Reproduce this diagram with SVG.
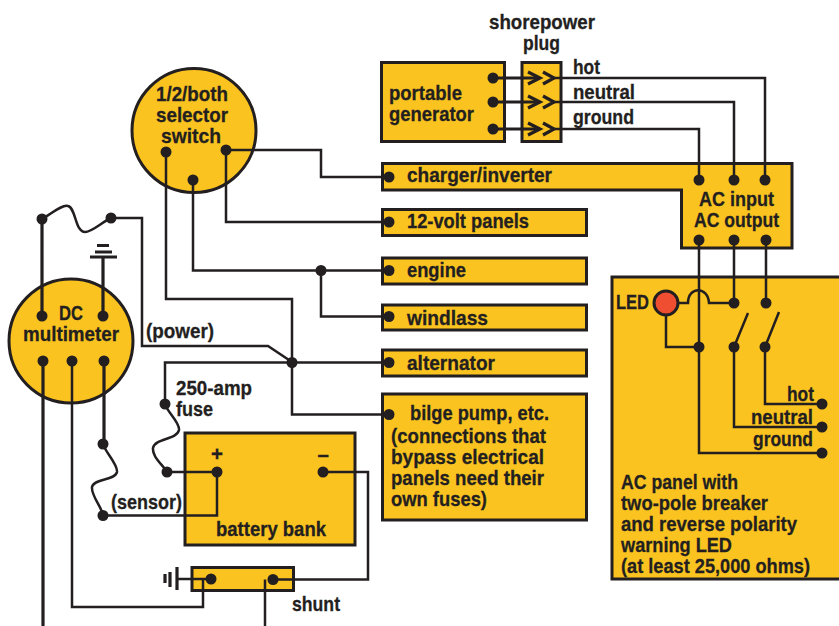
<svg xmlns="http://www.w3.org/2000/svg" width="839" height="626" viewBox="0 0 839 626">
<style>
.b{fill:#fbc31f;stroke:#231f20;stroke-width:3}
.w{fill:none;stroke:#231f20;stroke-width:2.500}
.h{fill:none;stroke:#231f20;stroke-width:3.200}
.d{fill:#231f20}
text{font-family:"Liberation Sans",Arial,sans-serif;font-weight:700;font-size:20.500px;fill:#231f20;stroke:#231f20;stroke-width:.3}
</style>
<rect width="839" height="626" fill="#fff"/>
<g id="node-selector"><circle class="b" cx="194" cy="130.500" r="62"/><text x="156" y="101" textLength="72" lengthAdjust="spacingAndGlyphs">1/2/both</text><text x="156" y="122" textLength="72" lengthAdjust="spacingAndGlyphs">selector</text><text x="161" y="143" textLength="60" lengthAdjust="spacingAndGlyphs">switch</text></g>
<g id="node-multimeter"><circle class="b" cx="71" cy="341" r="62"/><text x="59" y="320" textLength="24" lengthAdjust="spacingAndGlyphs">DC</text><text x="23" y="341" textLength="96" lengthAdjust="spacingAndGlyphs">multimeter</text></g>
<g id="node-generator"><rect class="b" x="381.500" y="62.500" width="123" height="79"/><text x="389" y="100" textLength="73" lengthAdjust="spacingAndGlyphs">portable</text><text x="389" y="121" textLength="85" lengthAdjust="spacingAndGlyphs">generator</text></g>
<g id="node-plug"><rect class="b" x="522" y="62.500" width="39" height="79"/></g>
<g id="node-charger"><path class="b" d="M382.500 163.500H792V248H681.500V190H382.500Z"/><text x="407" y="182" textLength="145" lengthAdjust="spacingAndGlyphs">charger/inverter</text><text x="699" y="206" textLength="75" lengthAdjust="spacingAndGlyphs">AC input</text><text x="694" y="227" textLength="85" lengthAdjust="spacingAndGlyphs">AC output</text></g>
<g id="node-panels"><rect class="b" x="382.500" y="209.500" width="204" height="26"/><text x="407" y="228" textLength="122" lengthAdjust="spacingAndGlyphs">12-volt panels</text></g>
<g id="node-engine"><rect class="b" x="382.500" y="258" width="204" height="26"/><text x="407" y="277" textLength="59" lengthAdjust="spacingAndGlyphs">engine</text></g>
<g id="node-windlass"><rect class="b" x="382.500" y="305" width="204" height="25"/><text x="407" y="325" textLength="81" lengthAdjust="spacingAndGlyphs">windlass</text></g>
<g id="node-alternator"><rect class="b" x="382.500" y="350" width="204" height="26"/><text x="407" y="370" textLength="88" lengthAdjust="spacingAndGlyphs">alternator</text></g>
<g id="node-bilge"><rect class="b" x="382.500" y="394" width="204" height="126"/><text x="410" y="420" textLength="139" lengthAdjust="spacingAndGlyphs">bilge pump, etc.</text><text x="391" y="443" textLength="155" lengthAdjust="spacingAndGlyphs">(connections that</text><text x="391" y="464" textLength="153" lengthAdjust="spacingAndGlyphs">bypass electrical</text><text x="391" y="485" textLength="153" lengthAdjust="spacingAndGlyphs">panels need their</text><text x="391" y="506" textLength="96" lengthAdjust="spacingAndGlyphs">own fuses)</text></g>
<g id="node-acpanel"><rect class="b" x="612" y="277" width="235" height="302"/><text x="616" y="309" textLength="33" lengthAdjust="spacingAndGlyphs">LED</text><text x="787" y="401" textLength="27" lengthAdjust="spacingAndGlyphs">hot</text><text x="751" y="424" textLength="62" lengthAdjust="spacingAndGlyphs">neutral</text><text x="753" y="446" textLength="60" lengthAdjust="spacingAndGlyphs">ground</text><text x="621" y="489" textLength="117" lengthAdjust="spacingAndGlyphs">AC panel with</text><text x="621" y="510" textLength="147" lengthAdjust="spacingAndGlyphs">two-pole breaker</text><text x="621" y="531" textLength="176" lengthAdjust="spacingAndGlyphs">and reverse polarity</text><text x="621" y="552" textLength="111" lengthAdjust="spacingAndGlyphs">warning LED</text><text x="621" y="573" textLength="189" lengthAdjust="spacingAndGlyphs">(at least 25,000 ohms)</text></g>
<g id="node-battery"><rect class="b" x="185" y="433" width="170" height="112"/><text x="216" y="536" textLength="110" lengthAdjust="spacingAndGlyphs">battery bank</text><text x="211" y="461">+</text><text x="317.500" y="461">–</text></g>
<g id="node-shunt"><rect class="b" x="192" y="567.500" width="101.500" height="23"/></g>
<g id="connectors">
<path class="w" d="M166 152V299H292V414.500H389M226 150V222H389M193 180V270.500H389M321 270.500V316.500H389M226 150H321V177H389"/>
<path class="w" d="M42 219C50 215 62 204 68 206C76 208 75 232 85 232C92 232 102 222 111 218H142V346H268L292 362"/>
<path class="w" d="M165 404V362.500H389"/>
<path class="h" d="M42 219V316M103 257V316M90 257H117M95 252H112M97 245.500H109"/>
<path class="h" d="M43 361V626M104 361V444"/>
<path class="w" d="M72 361V607H203V579"/>
<path class="w" d="M103 444C105 452 118 464 117 472C115 481 94 478 92 487C91 496 102 507 103 515.500H217V472M165 404C167 412 180 422 179 430C177 440 155 438 153 448C152 457 163 465 167 472H217"/>
<path class="w" d="M323 472H368V579.500H273M265 579.500V626"/>
<path class="w" d="M211 579H176"/><path class="h" d="M177 567V590M170 572V587M165 574V583"/>
<path class="h" d="M493 78H540M493 102H540M493 129H540"/>
<path class="w" d="M554 78H765V180M554 102H734V180M554 129H699V180"/>
<path class="h" d="M528 72L540 78L528 84M543 72L554 78L543 84M528 96L540 102L528 108M543 96L554 102L543 108M528 123L540 129L528 135M543 123L554 129L543 135"/>
<path class="w" d="M699 240V453H822M734 240V303M766 240V303M734 347V427H822M765 347V404H822"/>
<path class="w" d="M666 316V347H699M679 303H688C688 286 708 286 709 303H734"/>
<path class="w" d="M734 347L748 313M765 347L779 312"/>
</g>
<g id="dots" class="d">
<circle cx="166" cy="152" r="5.500"/><circle cx="226" cy="150" r="5.500"/><circle cx="193" cy="180" r="5.500"/><circle cx="321" cy="270.500" r="5.500"/><circle cx="292" cy="362.500" r="5.500"/>
<circle cx="389" cy="177" r="5.500"/><circle cx="389" cy="222" r="5.500"/><circle cx="389" cy="270.500" r="5.500"/><circle cx="389" cy="316.500" r="5.500"/><circle cx="389" cy="362.500" r="5.500"/><circle cx="389" cy="414.500" r="5.500"/>
<circle cx="42" cy="219" r="5.500"/><circle cx="111" cy="218" r="5.500"/><circle cx="42" cy="316" r="5.500"/><circle cx="103" cy="316" r="5.500"/><circle cx="43" cy="361" r="5.500"/><circle cx="72" cy="361" r="5.500"/><circle cx="104" cy="361" r="5.500"/>
<circle cx="165" cy="404" r="5.500"/><circle cx="167" cy="472" r="5.500"/><circle cx="217" cy="472" r="5.500"/><circle cx="323" cy="472" r="5.500"/><circle cx="103" cy="444" r="5.500"/><circle cx="103" cy="515.500" r="5.500"/><circle cx="211" cy="579" r="5.500"/><circle cx="273" cy="579.500" r="5.500"/>
<circle cx="493" cy="78" r="5.500"/><circle cx="493" cy="102" r="5.500"/><circle cx="493" cy="129" r="5.500"/>
<circle cx="699" cy="180" r="5.500"/><circle cx="734" cy="180" r="5.500"/><circle cx="765" cy="180" r="5.500"/><circle cx="699" cy="240" r="5.500"/><circle cx="734" cy="240" r="5.500"/><circle cx="766" cy="240" r="5.500"/>
<circle cx="734" cy="303" r="5.500"/><circle cx="766" cy="303" r="5.500"/><circle cx="699" cy="347" r="5.500"/><circle cx="734" cy="347" r="5.500"/><circle cx="765" cy="347" r="5.500"/><circle cx="822" cy="404" r="5.500"/><circle cx="822" cy="427" r="5.500"/><circle cx="822" cy="453" r="5.500"/>
</g>
<g id="node-led"><circle cx="666" cy="303" r="12" fill="#f04e30" stroke="#231f20" stroke-width="3"/></g>
<g id="labels"><text x="489" y="29" textLength="106" lengthAdjust="spacingAndGlyphs">shorepower</text><text x="523" y="50" textLength="37" lengthAdjust="spacingAndGlyphs">plug</text><text x="573" y="74" textLength="27" lengthAdjust="spacingAndGlyphs">hot</text><text x="573" y="99" textLength="62" lengthAdjust="spacingAndGlyphs">neutral</text><text x="573" y="124" textLength="61" lengthAdjust="spacingAndGlyphs">ground</text><text x="146" y="338" textLength="68" lengthAdjust="spacingAndGlyphs">(power)</text><text x="176" y="395" textLength="76" lengthAdjust="spacingAndGlyphs">250-amp</text><text x="176" y="416" textLength="37" lengthAdjust="spacingAndGlyphs">fuse</text><text x="111" y="509" textLength="71" lengthAdjust="spacingAndGlyphs">(sensor)</text><text x="292" y="611" textLength="48" lengthAdjust="spacingAndGlyphs">shunt</text></g>
</svg>
